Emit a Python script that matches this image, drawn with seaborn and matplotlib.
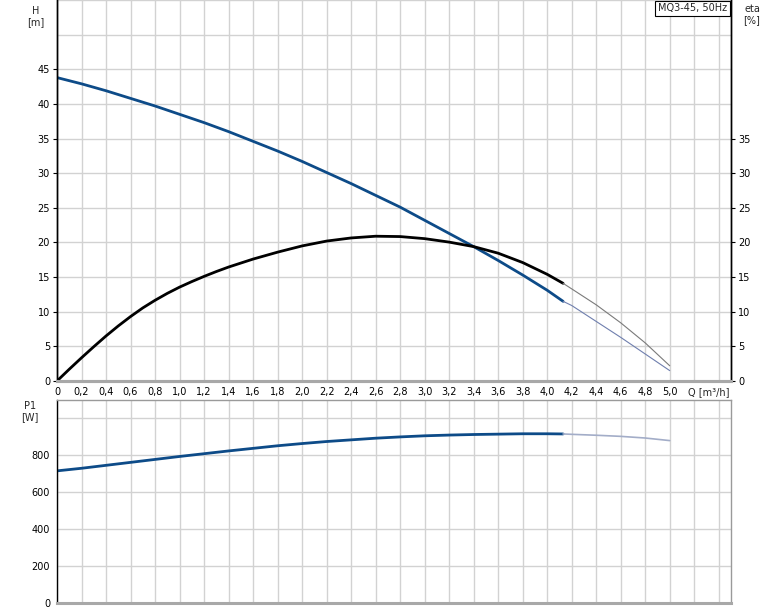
import matplotlib
matplotlib.use('Agg')
import matplotlib.pyplot as plt
import seaborn as sns
import numpy as np

# pump curve data (Q in m3/h)
q_main = [0.0, 0.2, 0.4, 0.6, 0.8, 1.0, 1.2, 1.4, 1.6, 1.8, 2.0, 2.2, 2.4, 2.6,
          2.8, 3.0, 3.2, 3.4, 3.6, 3.8, 4.0, 4.13]
h_main = [43.8, 42.9, 41.9, 40.8, 39.7, 38.5, 37.3, 36.0, 34.6, 33.2, 31.7, 30.1,
          28.5, 26.8, 25.1, 23.2, 21.3, 19.4, 17.4, 15.3, 13.1, 11.5]
p1_main = [716, 730, 746, 762, 778, 794, 809, 824, 838, 852, 864, 875, 884, 893,
           900, 906, 910, 913, 915, 917, 917, 916]

# efficiency read at a finer step where the curve bends most
q_eta = [0.0, 0.1, 0.2, 0.3, 0.4, 0.5, 0.6, 0.7, 0.8, 0.9, 1.0, 1.1, 1.2, 1.3,
         1.4, 1.6, 1.8, 2.0, 2.2, 2.4, 2.6, 2.8, 3.0, 3.2, 3.4, 3.6, 3.8, 4.0, 4.13]
eta_main = [0.0, 1.7, 3.35, 4.95, 6.5, 7.95, 9.3, 10.55, 11.65, 12.65, 13.55, 14.35,
            15.1, 15.8, 16.45, 17.6, 18.6, 19.5, 20.2, 20.65, 20.9, 20.85, 20.55,
            20.05, 19.4, 18.45, 17.1, 15.4, 14.1]

# thin extension beyond the operating range
q_ext = [4.13, 4.2, 4.4, 4.6, 4.8, 5.0]
h_ext = [11.5, 10.9, 8.6, 6.3, 3.9, 1.5]
eta_ext = [14.1, 13.3, 11.0, 8.4, 5.5, 2.2]
p1_ext = [916, 914, 909, 903, 894, 880]

x_ticks = [round(v, 1) for v in np.arange(0, 5.41, 0.2)]
x_labels = ['0' if v == 0 else (f'{v:.1f}'.replace('.', ',') if v <= 5.0 else '') for v in x_ticks]
h_ticks = list(range(0, 56, 5))
h_labels = [str(v) if v <= 45 else '' for v in h_ticks]
eta_labels = [str(v) if v <= 35 else '' for v in h_ticks]
p_ticks = list(range(0, 1001, 200))
p_labels = [str(v) if v <= 800 else '' for v in p_ticks]

sns.set_theme(style='whitegrid')
plt.rcParams['font.family'] = ['DejaVu Sans']
FS = 7

BLUE = '#0d4b88'
GRID = '#d2d2d2'
SPINE_GRAY = '#a8a8a8'

fig = plt.figure(figsize=(7.74, 6.11), dpi=100)
fig.patch.set_facecolor('white')
ax = fig.add_axes([57/774, 1-381/611, 674/774, 381/611])
ax2 = ax.twinx()
bx = fig.add_axes([57/774, 1-603/611, 674/774, 203/611])

for a in (ax, bx):
    a.set_facecolor('white')
    a.set_xlim(0, 5.5)
    a.set_xticks(x_ticks)
    a.grid(True, color=GRID, linewidth=1)
    a.tick_params(axis='both', length=3, width=0.8, pad=2, labelsize=FS, colors='black')
    a.tick_params(axis='x', length=0, pad=4)

# upper panel: H and eta
ax.set_ylim(0, 55)
ax.set_yticks(h_ticks)
ax.set_yticklabels(h_labels)
ax.set_xticklabels(x_labels)
ax2.set_ylim(0, 55)
ax2.set_yticks(h_ticks)
ax2.set_yticklabels(eta_labels)
ax2.grid(False)
ax2.tick_params(axis='y', length=3, width=0.8, pad=2, labelsize=FS, colors='black')

# hide tick marks where there is no label
for t in ax.yaxis.get_major_ticks()[10:]:
    t.tick1line.set_visible(False)
for t in ax2.yaxis.get_major_ticks()[8:]:
    t.tick2line.set_visible(False)

sns.lineplot(x=q_main, y=h_main, ax=ax, color=BLUE, linewidth=2)
sns.lineplot(x=q_ext, y=h_ext, ax=ax, color='#6f7fae', linewidth=0.8)
sns.lineplot(x=q_eta, y=eta_main, ax=ax2, color='black', linewidth=2)
sns.lineplot(x=q_ext, y=eta_ext, ax=ax2, color='#7a7a7a', linewidth=0.8)

for a in (ax, ax2):
    a.spines['top'].set_visible(False)
    a.spines['left'].set_color('black')
    a.spines['right'].set_color('black')
    a.spines['bottom'].set_color(SPINE_GRAY)
    a.spines['bottom'].set_linewidth(2.2)
    a.spines['left'].set_linewidth(1)
    a.spines['right'].set_linewidth(1)

# lower panel: P1
bx.set_ylim(0, 1100)
bx.set_yticks(p_ticks)
bx.set_yticklabels(p_labels)
bx.set_xticklabels([])
sns.lineplot(x=q_main, y=p1_main, ax=bx, color=BLUE, linewidth=2)
sns.lineplot(x=q_ext, y=p1_ext, ax=bx, color='#a3adc8', linewidth=1.2)
bx.spines['left'].set_color('black')
bx.spines['left'].set_linewidth(1)
for s in ('top', 'right'):
    bx.spines[s].set_color('#9a9a9a')
    bx.spines[s].set_linewidth(1)
bx.spines['bottom'].set_color(SPINE_GRAY)
bx.spines['bottom'].set_linewidth(2.2)

# axis titles
fig.text(36/774, 1-11/611, 'H', ha='center', va='center', fontsize=FS)
fig.text(36/774, 1-22/611, '[m]', ha='center', va='center', fontsize=FS)
fig.text(752/774, 1-9/611, 'eta', ha='center', va='center', fontsize=FS)
fig.text(752/774, 1-20/611, '[%]', ha='center', va='center', fontsize=FS)
fig.text(30/774, 1-406/611, 'P1', ha='center', va='center', fontsize=FS)
fig.text(30/774, 1-417/611, '[W]', ha='center', va='center', fontsize=FS)
fig.text(688/774, 1-392/611, 'Q [m³/h]', ha='left', va='center', fontsize=FS)

# model label box
fig.text(727/774, 1-8.5/611, 'MQ3-45, 50Hz', ha='right', va='center',
         fontsize=FS, zorder=10,
         bbox=dict(boxstyle='square,pad=0.3', facecolor='white', edgecolor='black', linewidth=0.8))

fig.savefig('out.png', dpi=100)
